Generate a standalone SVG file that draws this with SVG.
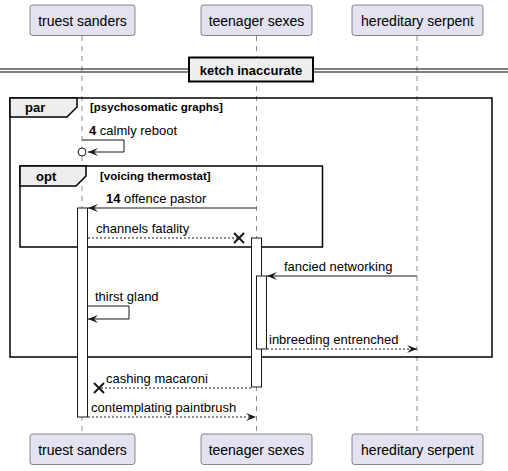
<svg xmlns="http://www.w3.org/2000/svg" width="508" height="471" viewBox="0 0 508 471">
<defs>
<style>
.part rect{fill:#E2E2F0;stroke:#181818;stroke-width:0.5}
.part text{font-family:"Liberation Sans",Arial,sans-serif;font-size:14px;fill:#000;text-anchor:middle}
.life{stroke:#181818;stroke-width:0.5;stroke-dasharray:5,5;fill:none}
.act{fill:#FFFFFF;stroke:#181818;stroke-width:1}
.frame{fill:none;stroke:#000;stroke-width:1.5}
.tab{fill:#EEEEEE;stroke:#000;stroke-width:1.5}
.ftitle{font-family:"Liberation Sans",Arial,sans-serif;font-size:13px;font-weight:bold;fill:#000}
.fcond{font-family:"Liberation Sans",Arial,sans-serif;font-size:11.5px;font-weight:bold;fill:#000}
.msg{font-family:"Liberation Sans",Arial,sans-serif;font-size:13px;fill:#000}
.ln{stroke:#181818;stroke-width:1;fill:none}
.dash{stroke:#181818;stroke-width:1;fill:none;stroke-dasharray:2,2}
.cross{stroke:#181818;stroke-width:2;fill:none}
</style>
<marker id="arr" viewBox="0 0 10 8" refX="10" refY="4" markerWidth="10" markerHeight="8" orient="auto" markerUnits="userSpaceOnUse">
<path d="M0,0 L10,4 L0,8 L4,4 Z" fill="#181818"/>
</marker>
</defs>

<g id="lifelines">
<line class="life" x1="82" y1="36" x2="82" y2="434"/>
<line class="life" x1="256.5" y1="36" x2="256.5" y2="434"/>
<line class="life" x1="417" y1="36" x2="417" y2="434"/>
</g>

<g id="p-truest" class="part">
<rect x="30" y="5" width="105" height="30.5" rx="2.5"/>
<text x="82.5" y="26">truest sanders</text>
<rect x="30" y="434" width="105" height="30.5" rx="2.5"/>
<text x="82.5" y="455">truest sanders</text>
</g>
<g id="p-teenager" class="part">
<rect x="201" y="5" width="111" height="30.5" rx="2.5"/>
<text x="256.5" y="26">teenager sexes</text>
<rect x="201" y="434" width="111" height="30.5" rx="2.5"/>
<text x="256.5" y="455">teenager sexes</text>
</g>
<g id="p-hereditary" class="part">
<rect x="352" y="5" width="131" height="30.5" rx="2.5"/>
<text x="417.5" y="26">hereditary serpent</text>
<rect x="352" y="434" width="131" height="30.5" rx="2.5"/>
<text x="417.5" y="455">hereditary serpent</text>
</g>

<g id="divider">
<line x1="0" y1="69" x2="508" y2="69" stroke="#000" stroke-width="1"/>
<line x1="0" y1="72" x2="508" y2="72" stroke="#000" stroke-width="1"/>
<rect x="189" y="57.5" width="124" height="24" fill="#EEEEEE" stroke="#000" stroke-width="2"/>
<text x="251" y="75" class="ftitle" text-anchor="middle">ketch inaccurate</text>
</g>

<g id="frame-par">
<rect class="frame" x="10" y="98" width="482" height="259"/>
<path class="tab" d="M10,98 L77,98 L77,107 L67,117 L10,117 Z"/>
<text class="ftitle" x="25" y="112">par</text>
<text class="fcond" x="90" y="111">[psychosomatic graphs]</text>
</g>

<g id="frame-opt">
<rect class="frame" x="20" y="166" width="302.5" height="81"/>
<path class="tab" d="M20,166 L86,166 L86,176 L76,186 L20,186 Z"/>
<text class="ftitle" x="36" y="181">opt</text>
<text class="fcond" x="100" y="180">[voicing thermostat]</text>
</g>

<g id="activations">
<rect class="act" x="77.5" y="208" width="10" height="209"/>
<rect class="act" x="251.5" y="238" width="10" height="149"/>
<rect class="act" x="256.5" y="276" width="10" height="73"/>
</g>

<g id="connectors">
<g id="m1">
<path class="ln" d="M82,140 L124,140 L124,152 L88,152" marker-end="url(#arr)"/>
<circle cx="82" cy="152" r="4" fill="#FFFFFF" stroke="#181818" stroke-width="1"/>
<text class="msg" x="89" y="135"><tspan font-weight="bold">4</tspan> calmly reboot</text>
</g>
<g id="m2">
<line class="ln" x1="256.5" y1="208" x2="88" y2="208" marker-end="url(#arr)"/>
<text class="msg" x="106" y="203"><tspan font-weight="bold">14</tspan> offence pastor</text>
</g>
<g id="m3">
<line class="dash" x1="88" y1="238" x2="239" y2="238"/>
<path class="cross" d="M234,233 L244,243 M244,233 L234,243"/>
<text class="msg" x="96" y="233">channels fatality</text>
</g>
<g id="m4">
<line class="ln" x1="417" y1="276" x2="267" y2="276" marker-end="url(#arr)"/>
<text class="msg" x="284" y="271">fancied networking</text>
</g>
<g id="m5">
<path class="ln" d="M88,306 L129,306 L129,319 L88,319" marker-end="url(#arr)"/>
<text class="msg" x="95" y="301">thirst gland</text>
</g>
<g id="m6">
<line class="dash" x1="267" y1="349" x2="417" y2="349" marker-end="url(#arr)"/>
<text class="msg" x="269" y="344">inbreeding entrenched</text>
</g>
<g id="m7">
<line class="dash" x1="251" y1="388" x2="99" y2="388"/>
<path class="cross" d="M94,383 L104,393 M104,383 L94,393"/>
<text class="msg" x="106" y="383">cashing macaroni</text>
</g>
<g id="m8">
<line class="dash" x1="88" y1="417" x2="256" y2="417" marker-end="url(#arr)"/>
<text class="msg" x="91" y="412">contemplating paintbrush</text>
</g>
</g>
</svg>
